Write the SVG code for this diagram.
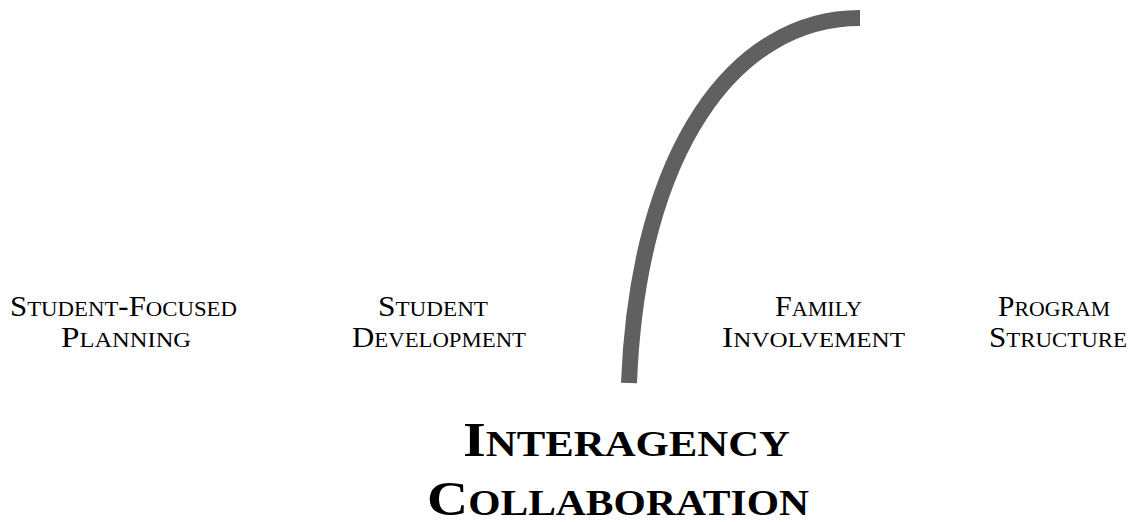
<svg xmlns="http://www.w3.org/2000/svg" width="1133" height="522" viewBox="0 0 1133 522">
<style>
.lbl{font-family:"Liberation Serif","Times New Roman",serif;font-size:28.5px;fill:#000;}
.lbl .sc{font-size:21px;}
.big{font-family:"Liberation Serif","Times New Roman",serif;font-size:48px;font-weight:bold;fill:#000;}
.big .sc{font-size:35px;}
.arc{fill:none;stroke:#606060;stroke-width:16;stroke-linecap:butt;}
</style>
<rect width="1133" height="522" fill="#ffffff"/>
<g id="connectors">
<path class="arc" d="M860,18 C735,18 638,150 629,383"/>
</g>
<g id="node-student-focused-planning">
<text class="lbl" x="10" y="315.7" textLength="227" lengthAdjust="spacingAndGlyphs">S<tspan class="sc">TUDENT</tspan>-F<tspan class="sc">OCUSED</tspan></text>
<text class="lbl" x="61" y="346.7" textLength="130" lengthAdjust="spacingAndGlyphs">P<tspan class="sc">LANNING</tspan></text>
</g>
<g id="node-student-development">
<text class="lbl" x="378" y="315.7" textLength="110" lengthAdjust="spacingAndGlyphs">S<tspan class="sc">TUDENT</tspan></text>
<text class="lbl" x="352" y="346.7" textLength="174" lengthAdjust="spacingAndGlyphs">D<tspan class="sc">EVELOPMENT</tspan></text>
</g>
<g id="node-family-involvement">
<text class="lbl" x="775" y="315.7" textLength="87" lengthAdjust="spacingAndGlyphs">F<tspan class="sc">AMILY</tspan></text>
<text class="lbl" x="722" y="346.7" textLength="183" lengthAdjust="spacingAndGlyphs">I<tspan class="sc">NVOLVEMENT</tspan></text>
</g>
<g id="node-program-structure">
<text class="lbl" x="998" y="315.7" textLength="112" lengthAdjust="spacingAndGlyphs">P<tspan class="sc">ROGRAM</tspan></text>
<text class="lbl" x="989" y="346.7" textLength="138" lengthAdjust="spacingAndGlyphs">S<tspan class="sc">TRUCTURE</tspan></text>
</g>
<g id="node-interagency-collaboration">
<text class="big" x="463" y="456" textLength="327" lengthAdjust="spacingAndGlyphs">I<tspan class="sc">NTERAGENCY</tspan></text>
<text class="big" x="427" y="515" textLength="382" lengthAdjust="spacingAndGlyphs">C<tspan class="sc">OLLABORATION</tspan></text>
</g>
</svg>
